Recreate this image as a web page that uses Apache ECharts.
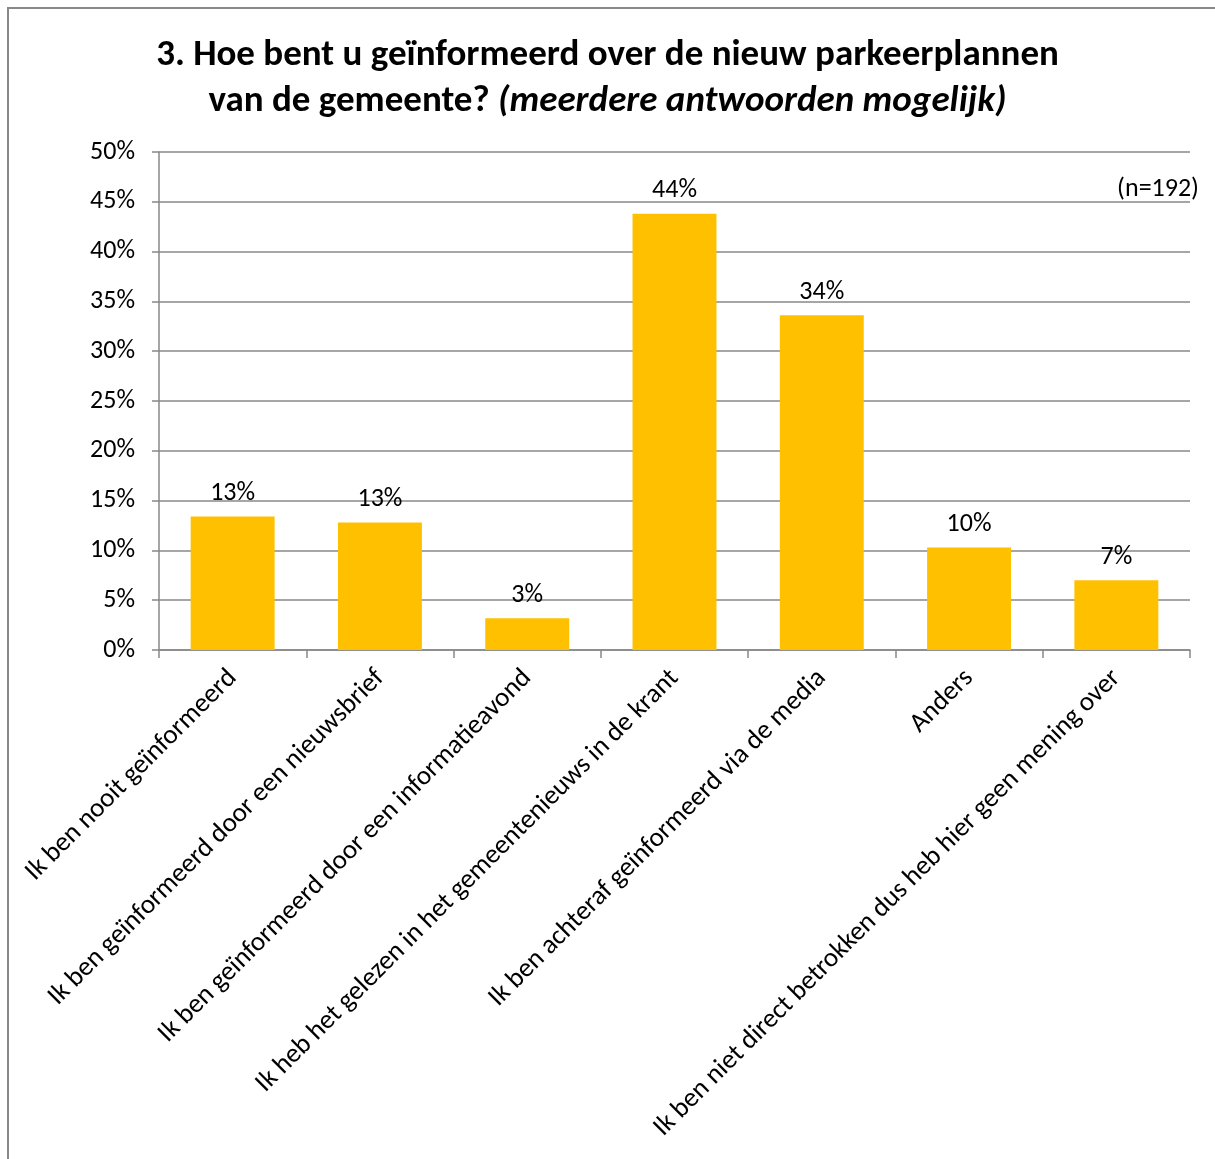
<!DOCTYPE html>
<html><head><meta charset="utf-8">
<script src="https://cdn.jsdelivr.net/npm/echarts@6/dist/echarts.min.js"></script>
<style>html,body{margin:0;padding:0;background:#fff}#c{width:1215px;height:1159px}</style>
</head><body><div id="c"></div>
<script>
const categories = [
  'Ik ben nooit geïnformeerd',
  'Ik ben geïnformeerd door een nieuwsbrief',
  'Ik ben geïnformeerd door een informatieavond',
  'Ik heb het gelezen in het gemeentenieuws in de krant',
  'Ik ben achteraf geïnformeerd via de media',
  'Anders',
  'Ik ben niet direct betrokken dus heb hier geen mening over'
];
const values = [13.4, 12.8, 3.2, 43.8, 33.6, 10.3, 7.0];
const yTicks = [0, 5, 10, 15, 20, 25, 30, 35, 40, 45, 50];
const FONT = 'Carlito, "Liberation Sans", sans-serif';

const chart = echarts.init(document.getElementById('c'));
chart.setOption({
  animation: false,
  backgroundColor: '#fff',
  title: {
    text: '{b|3. Hoe bent u geïnformeerd over de nieuw parkeerplannen}\n{b|van de gemeente? }{i|(meerdere antwoorden mogelijk)}',
    left: 'center', top: 28, padding: [5, 5, 5, 19],
    textStyle: {
      rich: {
        b: {fontFamily: FONT, fontWeight: 'bold', fontSize: 37, color: '#000', lineHeight: 46},
        i: {fontFamily: FONT, fontWeight: 'bold', fontStyle: 'italic', fontSize: 37, color: '#000', lineHeight: 46}
      }
    }
  },
  graphic: [
    {type: 'rect', shape: {x: 8, y: 8, width: 1230, height: 1200}, style: {fill: 'none', stroke: '#888', lineWidth: 2}, silent: true},
    {type: 'text', right: 16, top: 176, style: {text: '(n=192)', font: '26px ' + FONT, fill: '#000'}}
  ],
  grid: {left: 159, right: 25, top: 152, bottom: 509, containLabel: false},
  xAxis: {
    type: 'category', data: categories,
    axisLine: {lineStyle: {color: '#888', width: 1.5}},
    axisTick: {show: true, length: 8, lineStyle: {color: '#888', width: 1.5}},
    axisLabel: {rotate: 45, interval: 0, fontFamily: FONT, fontSize: 27, color: '#000', margin: 24}
  },
  yAxis: {
    type: 'value', min: 0, max: 50, interval: 5,
    axisLine: {show: true, lineStyle: {color: '#888', width: 1.5}},
    axisTick: {show: true, length: 7, inside: false, lineStyle: {color: '#888', width: 1.5}},
    splitLine: {lineStyle: {color: '#888', width: 1.5}},
    axisLabel: {fontFamily: FONT, fontSize: 26, color: '#000', margin: 24, formatter: v => yTicks.includes(v) ? v + '%' : ''}
  },
  series: [{
    type: 'bar', data: values, barWidth: '57%',
    itemStyle: {color: '#FFC000'},
    label: {show: true, position: 'top', distance: 10, fontFamily: FONT, fontSize: 26, color: '#000',
      formatter: p => Math.round(p.value) + '%'}
  }]
});
</script></body></html>
